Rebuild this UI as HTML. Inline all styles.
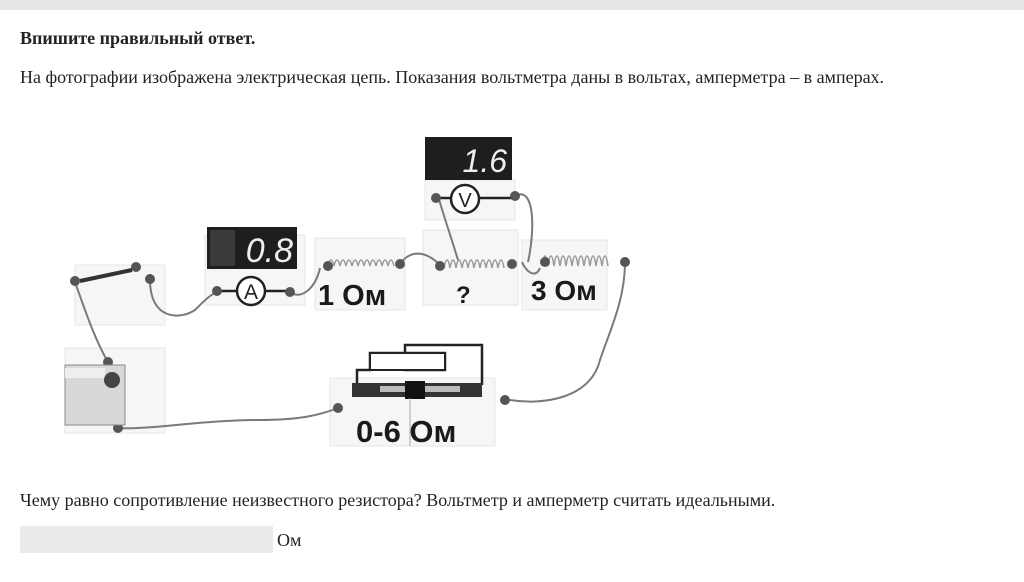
<!DOCTYPE html>
<html><head><meta charset="utf-8"><style>
body{margin:0;width:1024px;height:582px;background:#fff;font-family:"Liberation Serif",serif;color:#222;position:relative;overflow:hidden}
.bar{position:absolute;left:0;top:0;width:1024px;height:10px;background:#e4e6e8}
.t{position:absolute;left:20px;font-size:18px;line-height:20px;white-space:nowrap}
.box{position:absolute;left:20px;top:526px;width:253px;height:27px;background:#e9ebec}
svg{position:absolute;left:0;top:0}
.lbl{font-family:"Liberation Sans",sans-serif;font-weight:bold;fill:#1a1a1a}
.dig{font-family:"Liberation Sans",sans-serif;fill:#eee;font-style:italic}
</style></head><body>
<div class="bar"></div>
<div class="t" style="top:28px;font-weight:bold">Впишите правильный ответ.</div>
<div class="t" style="top:67px">На фотографии изображена электрическая цепь. Показания вольтметра даны в вольтах, амперметра – в амперах.</div>
<svg width="1024" height="582" viewBox="0 0 1024 582">
<g fill="#f6f6f6" stroke="#e6e6e6">
<rect x="75" y="265" width="90" height="60"/>
<rect x="205" y="235" width="100" height="70"/>
<rect x="315" y="238" width="90" height="72"/>
<rect x="423" y="230" width="95" height="75"/>
<rect x="425" y="180" width="90" height="40"/>
<rect x="522" y="240" width="85" height="70"/>
<rect x="65" y="348" width="100" height="85"/>
<rect x="330" y="378" width="165" height="68"/>
</g>
<g fill="none" stroke="#7a7a7a" stroke-width="2">
<path d="M75 282 C 85 310, 95 340, 108 362"/>
<path d="M150 280 C 150 320, 180 320, 195 310 C 205 300, 210 295, 217 292"/>
<path d="M290 292 C 300 300, 315 290, 320 268"/>
<path d="M400 264 C 410 250, 425 250, 440 265"/>
<path d="M438 196 C 445 220, 452 240, 458 260"/>
<path d="M515 196 C 535 185, 535 230, 528 262"/>
<path d="M522 262 C 525 270, 535 280, 540 268"/>
<path d="M625 262 C 625 300, 610 330, 600 360 C 590 400, 540 405, 510 400"/>
<path d="M118 428 C 150 430, 200 420, 260 420 C 300 420, 320 415, 338 408"/>
</g>
<path d="M357 385 V 370 H 370 V 353 H 445 V 370 H 405 V 345 H 482 V 385" fill="none" stroke="#222" stroke-width="2.5"/>
<rect x="370" y="353" width="75" height="17" fill="#fff" stroke="#222" stroke-width="2"/>
<rect x="352" y="383" width="130" height="14" fill="#333"/>
<rect x="380" y="386" width="80" height="6" fill="#bbb"/>
<rect x="405" y="381" width="20" height="18" fill="#111"/>
<line x1="410" y1="398" x2="410" y2="446" stroke="#aaa"/>
<rect x="207" y="227" width="90" height="42" fill="#1e1e1e"/>
<rect x="210" y="230" width="25" height="36" fill="#3a3a3a"/>
<text x="293" y="262" class="dig" font-size="34" text-anchor="end">0.8</text>
<rect x="425" y="137" width="87" height="43" fill="#1e1e1e"/>
<text x="507" y="172" class="dig" font-size="32" text-anchor="end">1.6</text>
<g stroke="#222" stroke-width="2.5" fill="#fff">
<line x1="217" y1="291" x2="290" y2="291"/>
<circle cx="251" cy="291" r="14"/>
<line x1="436" y1="198" x2="512" y2="198"/>
<circle cx="465" cy="199" r="14"/>
</g>
<text x="251" y="299" text-anchor="middle" font-family="Liberation Sans" font-size="21" fill="#222">A</text>
<text x="465" y="207" text-anchor="middle" font-family="Liberation Sans" font-size="20" fill="#222">V</text>
<g fill="none" stroke="#999" stroke-width="1.5">
<path d="M328 266 q3 -12 6 0 q3 -12 6 0 q3 -12 6 0 q3 -12 6 0 q3 -12 6 0 q3 -12 6 0 q3 -12 6 0 q3 -12 6 0 q3 -12 6 0 q3 -12 6 0 q3 -12 6 0"/>
<path d="M444 268 q3 -16 6 0 q3 -16 6 0 q3 -16 6 0 q3 -16 6 0 q3 -16 6 0 q3 -16 6 0 q3 -16 6 0 q3 -16 6 0 q3 -16 6 0 q3 -16 6 0"/>
<path d="M542 266 q3 -20 6 0 q3 -20 6 0 q3 -20 6 0 q3 -20 6 0 q3 -20 6 0 q3 -20 6 0 q3 -20 6 0 q3 -20 6 0 q3 -20 6 0 q3 -20 6 0 q3 -20 6 0"/>
</g>
<g fill="#555">
<circle cx="75" cy="281" r="5"/><circle cx="150" cy="279" r="5"/><circle cx="136" cy="267" r="5"/>
<circle cx="217" cy="291" r="5"/><circle cx="290" cy="292" r="5"/>
<circle cx="328" cy="266" r="5"/><circle cx="400" cy="264" r="5"/>
<circle cx="440" cy="266" r="5"/><circle cx="512" cy="264" r="5"/>
<circle cx="436" cy="198" r="5"/><circle cx="515" cy="196" r="5"/>
<circle cx="545" cy="262" r="5"/><circle cx="625" cy="262" r="5"/>
<circle cx="108" cy="362" r="5"/><circle cx="118" cy="428" r="5"/>
<circle cx="338" cy="408" r="5"/><circle cx="505" cy="400" r="5"/>
</g>
<line x1="80" y1="281" x2="132" y2="270" stroke="#333" stroke-width="4"/>
<rect x="65" y="365" width="60" height="60" fill="#d8d8d8" stroke="#888"/>
<rect x="65" y="368" width="40" height="10" fill="#eee"/>
<circle cx="112" cy="380" r="8" fill="#444"/>
<text x="318" y="305" class="lbl" font-size="29">1 Ом</text>
<text x="456" y="303" class="lbl" font-size="24">?</text>
<text x="531" y="300" class="lbl" font-size="28">3 Ом</text>
<text x="356" y="442" class="lbl" font-size="31">0-6 Ом</text>
</svg>
<div class="t" style="top:490px">Чему равно сопротивление неизвестного резистора? Вольтметр и амперметр считать идеальными.</div>
<div class="box"></div>
<div class="t" style="left:277px;top:530px">Ом</div>
</body></html>
